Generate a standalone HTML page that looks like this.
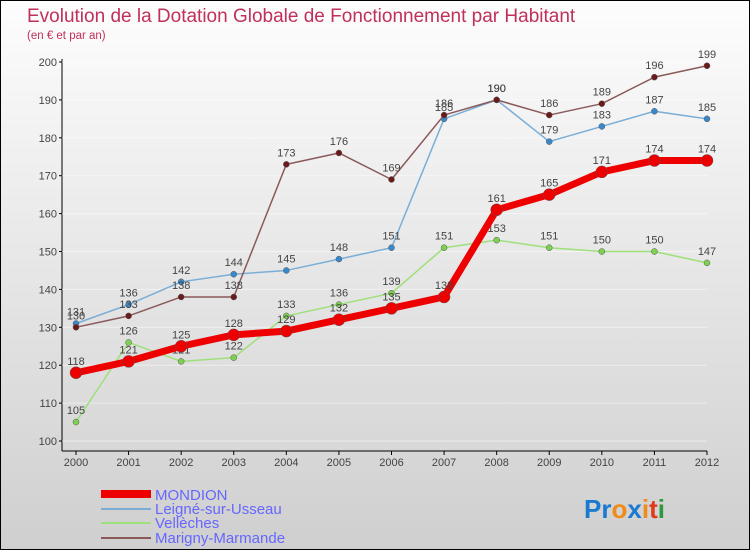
<!DOCTYPE html>
<html><head><meta charset="utf-8"><style>
body{margin:0}
#c{width:750px;height:550px;position:relative;box-sizing:border-box;border:1px solid #000;background:linear-gradient(#fdfdfd,#cfcfcf);font-family:"Liberation Sans",sans-serif;overflow:hidden}
</style></head><body>
<div id="c">
<svg id="s" width="750" height="550" style="position:absolute;left:0;top:0">
<text x="26" y="21" font-size="19" fill="#c0305a">Evolution de la Dotation Globale de Fonctionnement par Habitant</text>
<text x="26" y="38" font-size="11.5" fill="#c0305a">(en € et par an)</text>
<g id="axes"></g><g id="series"></g>
<g>
<rect x="100" y="489" width="50" height="8" fill="#e00"/>
<text x="154" y="499" font-size="15" fill="#66f">MONDION</text>
<line x1="100" y1="508" x2="150" y2="508" stroke="#7aaed6" stroke-width="2"/>
<text x="154" y="513" font-size="15" fill="#66f">Leigné-sur-Usseau</text>
<line x1="100" y1="522" x2="150" y2="522" stroke="#9ee07a" stroke-width="2"/>
<text x="154" y="527" font-size="15" fill="#66f">Vellèches</text>
<line x1="100" y1="537" x2="150" y2="537" stroke="#8a5a5a" stroke-width="2"/>
<text x="154" y="542" font-size="15" fill="#66f">Marigny-Marmande</text>
</g>
<text x="583" y="517" font-size="26" font-weight="bold"><tspan fill="#1a7ad0">Pr</tspan><tspan fill="#f08a1a">o</tspan><tspan fill="#1a7ad0">x</tspan><tspan fill="#f08a1a">i</tspan><tspan fill="#e03a1a">t</tspan><tspan fill="#2a9a3a">i</tspan></text>
</svg>
</div>
<script>
const years=[2000,2001,2002,2003,2004,2005,2006,2007,2008,2009,2010,2011,2012];
const yTicks=[100,110,120,130,140,150,160,170,180,190,200];
const mondion=[118,121,125,128,129,132,135,138,161,165,171,174,174];
const leigne=[131,136,142,144,145,148,151,185,190,179,183,187,185];
const velleches=[105,126,121,122,133,136,139,151,153,151,150,150,147];
const marigny=[130,133,138,138,173,176,169,186,190,186,189,196,199];
const NS="http://www.w3.org/2000/svg";
function xs(i){return 75+i*(706-75)/(years.length-1);}
function ys(v){return 440-(v-100)*3.79;}
function mk(tag,attrs,parent){const e=document.createElementNS(NS,tag);for(const k in attrs)e.setAttribute(k,attrs[k]);parent.appendChild(e);return e;}
const ax=document.getElementById('axes'),sr=document.getElementById('series');
const yl=mk('line',{x1:61,y1:58,x2:61,y2:450,stroke:'#000'},ax);


const xl=mk('line',{x1:61,y1:450,x2:706,y2:450,stroke:'#000'},ax);


yTicks.forEach(t=>{const y=ys(t);
mk('line',{x1:58,y1:y,x2:61,y2:y,stroke:'#000'},ax);
mk('line',{x1:61,y1:y,x2:706,y2:y,stroke:'#fff','stroke-opacity':0.5},ax);
const tx=mk('text',{x:56,y:y+4,'font-size':11,fill:'#444','text-anchor':'end'},ax);tx.textContent=t;

});
years.forEach((yr,i)=>{const x=xs(i);
mk('line',{x1:x,y1:450,x2:x,y2:454,stroke:'#000'},ax);
const tx=mk('text',{x:x,y:465,'font-size':11,fill:'#444','text-anchor':'middle'},ax);tx.textContent=yr;

});
function draw(data,color,w,r,dot,name){
const g=mk('g',{},sr);


mk('polyline',{points:data.map((v,i)=>xs(i)+','+ys(v)).join(' '),fill:'none',stroke:color,'stroke-width':w,'stroke-linejoin':'round'},g);
data.forEach((v,i)=>{const c=mk('circle',{cx:xs(i),cy:ys(v),r:r,fill:dot,stroke:'#555','stroke-width':0.5},g);


const t=mk('text',{x:xs(i),y:ys(v)-8,'font-size':11,fill:'#444','text-anchor':'middle'},g);t.textContent=v;});}
draw(velleches,'#9ee07a',1.5,3,'#7ed050','series-velleches');
draw(leigne,'#7aaed6',1.5,3,'#3a88cc','series-leigne');
draw(marigny,'#8a5a5a',1.5,3,'#6a1a1a','series-marigny');
draw(mondion,'#e00',7,6,'#e00','series-mondion');
</script>
</body></html>
